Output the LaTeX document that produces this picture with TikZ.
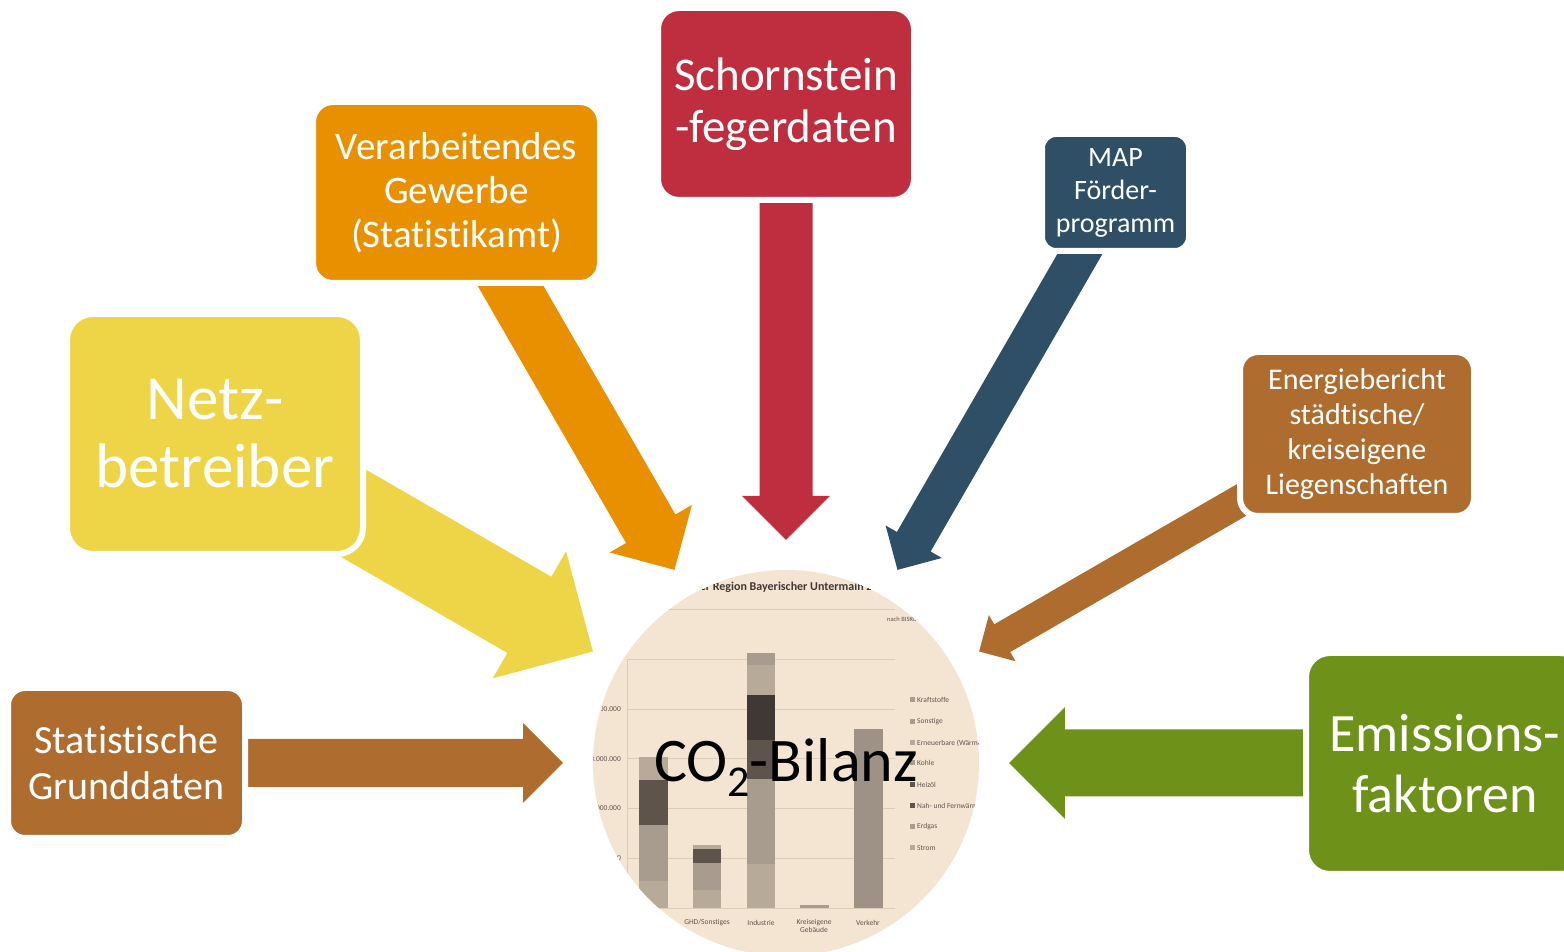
\documentclass[tikz,border=0pt]{standalone}
\usepackage{fontspec}
\setmainfont{Carlito}[RawFeature={-liga;-clig;-calt;-dlig}]
\usepackage{tikz}
\usetikzlibrary{calc}
\definecolor{bbrown}{HTML}{AE6D2E}
\definecolor{byellow}{HTML}{EED447}
\definecolor{borange}{HTML}{E99000}
\definecolor{bred}{HTML}{BE2E3E}
\definecolor{bblue}{HTML}{2F4F67}
\definecolor{bgreen}{HTML}{6E9119}
\definecolor{bbeige}{HTML}{F4E4D2}
\definecolor{chgrid}{HTML}{DCCDBA}
\definecolor{chlight}{HTML}{B8AA98}
\definecolor{chmid}{HTML}{A89C8E}
\definecolor{chdark}{HTML}{5E544C}
\definecolor{chblack}{HTML}{3F3834}
\definecolor{chcar}{HTML}{9E9286}
\definecolor{chtext}{HTML}{5E554E}

% block arrow: tail, tip, shaft width, colour
\newcommand\blockarrow[4]{%
  \coordinate (hb) at ($(#2)!#3*0.8333pt!(#1)$);
  \fill[#4] ($(#1)!#3*0.5pt!90:(#2)$) -- ($(hb)!#3*0.5pt!-90:(#1)$)
    -- ($(hb)!#3*0.8333pt!-90:(#1)$) -- (#2)
    -- ($(hb)!#3*0.8333pt!90:(#1)$) -- ($(hb)!#3*0.5pt!90:(#1)$)
    -- ($(#1)!#3*0.5pt!-90:(#2)$) -- cycle;
}

\begin{document}
\begin{tikzpicture}[x=1pt,y=1pt,
  srcbox/.style={rectangle,fill=#1,draw=white,line width=6pt,text=white,align=center,inner sep=0pt},
  chartlbl/.style={font=\fontsize{7.5}{8.5}\selectfont,text=chtext,inner sep=0pt}]
  \clip (0,0) rectangle (1564,952);

  % CO2 circle with the faded chart
  \node[circle,fill=bbeige,minimum size=386,inner sep=0pt] (bilanz) at (786,189) {};
  \begin{scope}
    \clip (bilanz.center) circle (193);
    \foreach \g in {0,...,6} \draw[chgrid,line width=0.8pt] (627,{44+49.7*\g}) -- (895,{44+49.7*\g});
    \draw[chgrid,line width=0.8pt] (627,44) -- (627,293);
    \fill[chlight] (639,44) rectangle (668,71);
    \fill[chmid] (639,71) rectangle (668,127);
    \fill[chdark] (639,127) rectangle (668,172);
    \fill[chlight] (639,172) rectangle (668,195);
    \fill[chlight] (693,44) rectangle (721,62);
    \fill[chmid] (693,62) rectangle (721,89);
    \fill[chdark] (693,89) rectangle (721,103);
    \fill[chlight] (693,103) rectangle (721,107);
    \fill[chlight] (747,44) rectangle (775,88);
    \fill[chmid] (747,88) rectangle (775,173);
    \fill[chdark] (747,173) rectangle (775,212);
    \fill[chblack] (747,212) rectangle (775,257);
    \fill[chlight] (747,257) rectangle (775,287);
    \fill[chmid] (747,287) rectangle (775,299);
    \fill[chmid] (800,44) rectangle (829,47);
    \fill[chcar] (854,44) rectangle (883,223);
    \foreach \v/\yy in {1/94,2/144,3/193,4/243,5/293}
      \node[chartlbl,anchor=east] (ylab\v) at (621,\yy) {\v.000.000};
    \node[chartlbl] (xhh) at (653,29) {Haushalte};
    \node[chartlbl] (xghd) at (707,29) {GHD/Sonstiges};
    \node[chartlbl] (xind) at (761,29) {Industrie};
    \node[chartlbl,anchor=north,align=center] (xkr) at (814,33) {Kreiseigene\\Gebäude};
    \node[chartlbl] (xvk) at (868,29) {Verkehr};
    \foreach \t/\yy/\c in {Kraftstoffe/252/chmid,Sonstige/230/chmid,Erneuerbare (Wärme)/209/chlight,
        Kohle/189/chmid,Heizöl/167/chdark,Nah- und Fernwärme/146/chdark,Erdgas/125/chmid,Strom/104/chlight}{
      \fill[\c] (910,{\yy-2.5}) rectangle ++(5,5);
      \node[chartlbl,anchor=west] at (917,\yy) {\t};
    }
    \node[chartlbl,font=\bfseries\fontsize{12}{13}\selectfont,text=chblack] (ctitle) at (786,365) {der Region Bayerischer Untermain 20};
    \node[chartlbl,anchor=west,font=\fontsize{6.5}{7}\selectfont] (bisko) at (887,333) {nach BISKO};
  \end{scope}
  \node[font=\fontsize{62}{62}\selectfont,anchor=base,inner sep=0pt] (co2) at (786,170)
    {CO\raisebox{-15pt}{\fontsize{44}{44}\selectfont 2}-Bilanz};

  % arrows towards the circle
  \foreach \ang/\len/\sw/\col in {180/586/48/bbrown,150/540/88/byellow,120/600/57/borange,
      90/600/53/bred,60/640/39/bblue,30/570/32/bbrown,0/564/67/bgreen}{
    \coordinate (tail\ang) at ($(bilanz.center)+(\ang:\len)$);
    \coordinate (tip\ang) at ($(bilanz.center)+(\ang:223)$);
    \blockarrow{tail\ang}{tip\ang}{\sw}{\col}
  }

  % data sources
  \node[srcbox=bbrown,minimum width=237,minimum height=150,rounded corners=17,
    font=\fontsize{40}{46}\selectfont] (stat) at (126.5,189) {Statistische\\Grunddaten};
  \node[srcbox=byellow,minimum width=296,minimum height=240,rounded corners=26,
    font=\fontsize{63}{68}\selectfont] (netz) at (215,518) {Netz-\\betreiber};
  \node[srcbox=borange,minimum width=287,minimum height=181,rounded corners=20,
    font=\fontsize{39}{44}\selectfont] (verarb) at (456.5,759.5) {Verarbeitendes\\Gewerbe\\(Statistikamt)};
  \node[srcbox=bred,minimum width=256,minimum height=192,rounded corners=21,
    font=\fontsize{47}{52}\selectfont] (schorn) at (786,848) {Schornstein\\-fegerdaten};
  \node[srcbox=bblue,minimum width=147,minimum height=117,rounded corners=14,
    font=\fontsize{28}{33}\selectfont] (map) at (1115.5,759.5) {MAP\\Förder-\\programm};
  \node[srcbox=bbrown,minimum width=234,minimum height=164,rounded corners=18,
    font=\fontsize{30}{35}\selectfont] (energie) at (1357,518) {Energiebericht\\städtische/\\kreiseigene\\Liegenschaften};
  \node[srcbox=bgreen,minimum width=278,minimum height=221,rounded corners=24,
    font=\fontsize{54}{61}\selectfont] (emis) at (1445,188.5) {Emissions-\\faktoren};
\end{tikzpicture}
\end{document}
